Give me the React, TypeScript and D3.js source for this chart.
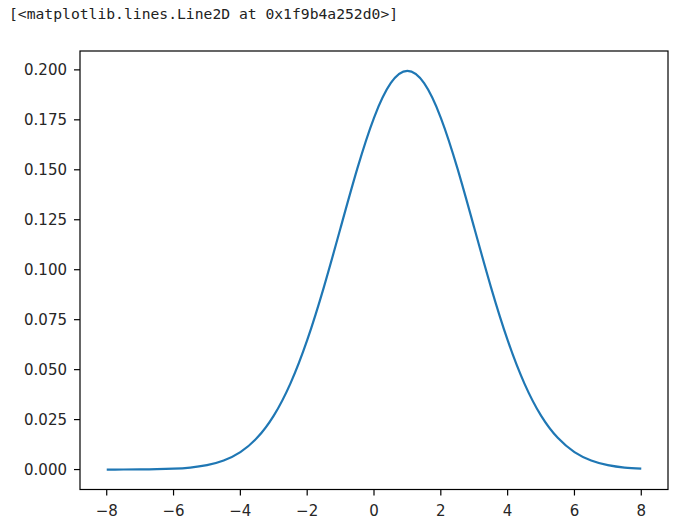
import React from "react";
import * as d3 from "d3";

const xValues = [-8, -7.5, -7, -6.5, -6, -5.5, -5, -4.5, -4, -3.5, -3, -2.5, -2, -1.5, -1, -0.5, 0, 0.5, 1, 1.5, 2, 2.5, 3, 3.5, 4, 4.5, 5, 5.5, 6, 6.5, 7, 7.5, 8];
const yValues = [0.000008, 0.000024, 0.000067, 0.000177, 0.000437, 0.001015, 0.002216, 0.004553, 0.008764, 0.01587, 0.027, 0.04315, 0.06476, 0.09132, 0.12098, 0.15057, 0.17603, 0.19333, 0.19947, 0.19333, 0.17603, 0.15057, 0.12098, 0.09132, 0.06476, 0.04315, 0.027, 0.01587, 0.008764, 0.004553, 0.002216, 0.001015, 0.000437];
const xTicks = [-8, -6, -4, -2, 0, 2, 4, 6, 8];
const yTicks = [0, 0.025, 0.05, 0.075, 0.1, 0.125, 0.15, 0.175, 0.2];
const headerText = "[<matplotlib.lines.Line2D at 0x1f9b4a252d0>]";

export default function App() {
  const W = 689, H = 521;
  const left = 80, right = 668, top = 51, bottom = 489.5;
  const xMin = -8.8, xMax = 8.8;
  const yMax0 = d3.max(yValues)!;
  const pad = yMax0 * 0.05;
  const x = d3.scaleLinear().domain([xMin, xMax]).range([left, right]);
  const y = d3.scaleLinear().domain([-pad, yMax0 + pad]).range([bottom, top]);
  const data = xValues.map((v, i) => [v, yValues[i]] as [number, number]);
  const line = d3.line<[number, number]>().x(d => x(d[0])).y(d => y(d[1])).curve(d3.curveNatural);
  const font = "'DejaVu Sans', sans-serif";
  const fmtX = (v: number) => (v < 0 ? "\u2212" + Math.abs(v) : String(v));
  return (
    <svg width={W} height={H} style={{ position: "absolute", left: 0, top: 0, background: "#fff" }}>
      <text x={9} y={19} fontFamily="'DejaVu Sans Mono', monospace" fontSize={14.7} fill="#222">{headerText}</text>
      <path d={line(data) || ""} fill="none" stroke="#1f77b4" strokeWidth={2.2} strokeLinejoin="round" strokeLinecap="butt" />
      <rect x={left} y={top} width={right - left} height={bottom - top} fill="none" stroke="#000" strokeWidth={1.2} />
      {xTicks.map(t => (
        <g key={"x" + t}>
          <line x1={x(t)} x2={x(t)} y1={bottom} y2={bottom + 6} stroke="#000" strokeWidth={1.2} />
          <text x={x(t)} y={516} textAnchor="middle" fontFamily={font} fontSize={15} fill="#262626">{fmtX(t)}</text>
        </g>
      ))}
      {yTicks.map(t => (
        <g key={"y" + t}>
          <line x1={left - 6} x2={left} y1={y(t)} y2={y(t)} stroke="#000" strokeWidth={1.2} />
          <text x={left - 13} y={y(t)} dy="0.36em" textAnchor="end" fontFamily={font} fontSize={15} fill="#262626">{t.toFixed(3)}</text>
        </g>
      ))}
    </svg>
  );
}
